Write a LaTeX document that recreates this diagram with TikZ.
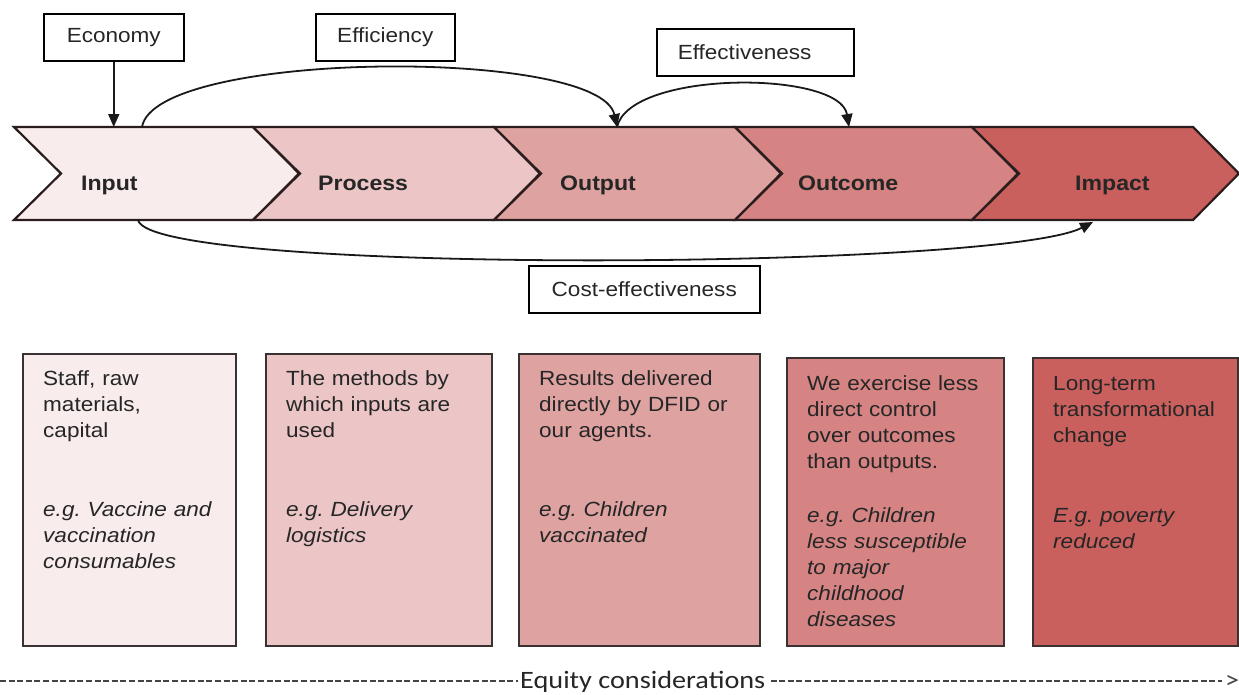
\documentclass[tikz,border=0pt]{standalone}
\usepackage{fontspec}
\setmainfont{Liberation Sans}[FakeStretch=1.1]
\newfontfamily\equityfont{Carlito}[FakeStretch=1.13]
\usetikzlibrary{arrows.meta}
\frenchspacing

\definecolor{stageA}{HTML}{F8ECEC}
\definecolor{stageB}{HTML}{ECC6C6}
\definecolor{stageC}{HTML}{DEA2A1}
\definecolor{stageD}{HTML}{D58383}
\definecolor{stageE}{HTML}{C9605E}
\definecolor{stageline}{HTML}{2B1D1D}
\definecolor{cardline}{HTML}{3A3232}
\definecolor{ink}{HTML}{262626}
\definecolor{dashink}{HTML}{444444}

\begin{document}
\begin{tikzpicture}[x=1pt,y=-1pt,
  stage/.style={draw=stageline, line width=2.2pt, line join=miter},
  stagename/.style={font=\fontsize{21pt}{25pt}\selectfont\bfseries, text=ink, anchor=base west, inner sep=0pt},
  measure/.style={draw=black, line width=1.5pt, fill=white, minimum height=47pt, inner sep=0pt,
    font=\fontsize{20.5pt}{25pt}\selectfont, text=ink, anchor=north west},
  link/.style={line width=1.8pt, draw=black!90, -{Triangle[length=13pt,width=11pt]}},
  card/.style={draw=cardline, line width=2pt, anchor=north west, inner sep=0pt},
  cardtext/.style={anchor=base west, inner sep=0pt, text width=230pt, align=left,
    font=\fontsize{20.5pt}{26pt}\selectfont, text=ink},
  equitydash/.style={draw=dashink, line width=1.4pt, dash pattern=on 6pt off 2.6pt},
]
\useasboundingbox (0,0) rectangle (1239,694);

% results chain: five chevrons
\foreach \l/\r/\c in {14/253/stageA, 253/494/stageB, 494/735/stageC, 735/972/stageD, 972/1193/stageE}{
  \path[stage, fill=\c] (\l,127) -- (\r,127) -- (\r+46,173.5) -- (\r,220) -- (\l,220) -- (\l+47,173.5) -- cycle;
}
\node[stagename] (input)   at (81,190)   {Input};
\node[stagename] (process) at (318,190)  {Process};
\node[stagename] (output)  at (560,190)  {Output};
\node[stagename] (outcome) at (798,190)  {Outcome};
\node[stagename] (impact)  at (1075,190) {Impact};

% value-for-money measures
\node[measure, minimum width=140pt] (economy)       at (43,13)  {Economy};
\node[measure, minimum width=139pt] (efficiency)    at (315,13) {Efficiency};
\node[measure, minimum width=197pt, text width=155pt, align=left, inner xsep=21pt] (effectiveness) at (656,28) {Effectiveness};
\node[measure, minimum width=231pt] (costeff)       at (528,265) {Cost-effectiveness};

% connector end points on the chevron band
\coordinate (bandTop)   at (0,127);
\coordinate (inTop)     at (142,127);
\coordinate (outTop)    at (617,127);
\coordinate (outcomeTop) at (849,127);
\coordinate (inBottom)  at (138,220);
\coordinate (impactBottom) at (1093,222);

\draw[link] (economy.south) -- (economy.south |- bandTop);
\draw[link] (inTop) .. controls +(13,-77) and +(-17,-80) .. (outTop);
\draw[link] (outTop) .. controls +(13,-57) and +(-9,-57) .. (outcomeTop);
\draw[link] (inBottom) .. controls +(12,55) and +(-93,48) .. (impactBottom);

% description cards
\node[card, fill=stageA, minimum width=213pt, minimum height=292pt] (cardInput)   at (22,353)   {};
\node[card, fill=stageB, minimum width=226pt, minimum height=292pt] (cardProcess) at (265,353)  {};
\node[card, fill=stageC, minimum width=241pt, minimum height=292pt] (cardOutput)  at (518,353)  {};
\node[card, fill=stageD, minimum width=217pt, minimum height=288pt] (cardOutcome) at (786,357)  {};
\node[card, fill=stageE, minimum width=205pt, minimum height=288pt] (cardImpact)  at (1032,357) {};

\node[cardtext] (descInput) at (43,385) {Staff, raw\\materials,\\capital};
\node[cardtext] (exInput)   at (43,516) {\itshape e.g. Vaccine and\\vaccination\\consumables};
\node[cardtext] (descProcess) at (286,385) {The methods by\\which inputs are\\used};
\node[cardtext] (exProcess)   at (286,516) {\itshape e.g. Delivery\\logistics};
\node[cardtext] (descOutput) at (539,385) {Results delivered\\directly by DFID or\\our agents.};
\node[cardtext] (exOutput)   at (539,516) {\itshape e.g. Children\\vaccinated};
\node[cardtext] (descOutcome) at (807,390) {We exercise less\\direct control\\over outcomes\\than outputs.};
\node[cardtext] (exOutcome)   at (807,522) {\itshape e.g. Children\\less susceptible\\to major\\childhood\\diseases};
\node[cardtext] (descImpact) at (1053,390) {Long-term\\transformational\\change};
\node[cardtext] (exImpact)   at (1053,522) {\itshape E.g. poverty\\reduced};

% equity line along the bottom
\node[anchor=base west, inner sep=0pt, text=ink, font=\equityfont\fontsize{25pt}{30pt}\selectfont] (equity) at (520,688) {Equity considerations};
\node[anchor=base west, inner sep=0pt, text=dashink, font=\equityfont\fontsize{25pt}{30pt}\selectfont] (equityEnd) at (1225,688) {>};
\coordinate (dashStart) at (0,681);
\draw[equitydash] (dashStart) -- ([xshift=-2pt]dashStart -| equity.west);
\draw[equitydash] ([xshift=5pt]equity.east |- dashStart) -- ([xshift=-3pt]dashStart -| equityEnd.west);
\end{tikzpicture}
\end{document}
